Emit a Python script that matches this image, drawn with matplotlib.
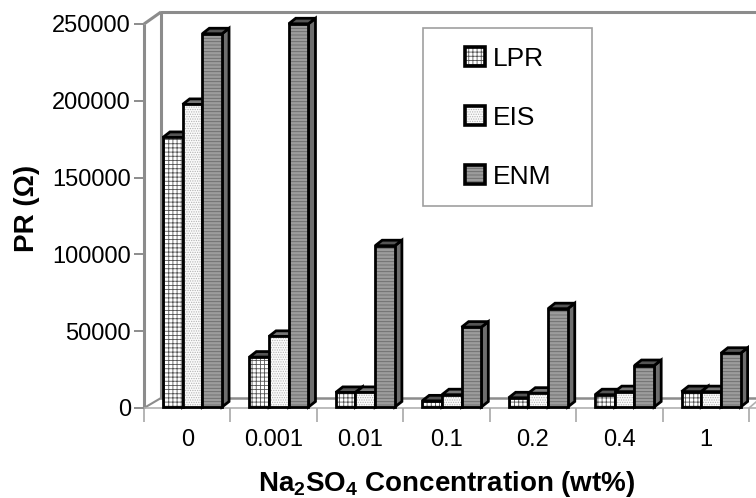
import matplotlib
matplotlib.use('Agg')
import matplotlib.pyplot as plt
from matplotlib.lines import Line2D
from matplotlib.patches import Polygon, Rectangle

plt.rcParams['font.family'] = ['Liberation Sans', 'DejaVu Sans']
plt.rcParams['mathtext.fontset'] = 'custom'
plt.rcParams['mathtext.bf'] = 'Liberation Sans:bold'
plt.rcParams['mathtext.rm'] = 'Liberation Sans'
plt.rcParams['hatch.linewidth'] = 0.6

categories = ['0', '0.001', '0.01', '0.1', '0.2', '0.4', '1']
lpr = [175500, 32500, 9500, 4000, 6000, 8000, 10000]
eis = [197000, 46000, 9500, 8000, 9000, 10000, 10000]
enm = [243000, 249500, 105000, 52000, 64000, 27000, 35000]
yticks = [0, 50000, 100000, 150000, 200000, 250000]

W, H = 756, 498
LEFT, RIGHT, BOTTOM, TOP = 144, 749, 408, 24
GREY = '#8c8c8c'
EDGE = 2.0

fig = plt.figure(figsize=(W / 100, H / 100), dpi=100)
ax = fig.add_axes([LEFT / W, 1 - BOTTOM / H, (RIGHT - LEFT) / W, (BOTTOM - TOP) / H])
ax.set_xlim(0, 7)
ax.set_ylim(0, 250000)
ax.patch.set_alpha(0)

px_x = 7 / (RIGHT - LEFT)
px_y = 250000 / (BOTTOM - TOP)


def fig_line(xs, ys, **kw):
    # pixel coordinates of the picture, y going down
    fig.add_artist(Line2D([x / W for x in xs], [1 - y / H for y in ys],
                          transform=fig.transFigure, zorder=-1, **kw))


# walls of the 3D box
wall = dict(color=GREY, lw=2.2, solid_capstyle='butt')
fig_line([161, 161, W], [398, 12, 12], **wall)
fig_line([161, W], [398, 398], color=GREY, lw=1.8)
fig_line([144, 144], [TOP, BOTTOM], **wall)
fig_line([144, 161], [TOP, 12], **wall)
fig_line([144, 161], [BOTTOM, 398], color=GREY, lw=1.5)
fig_line([144, W], [BOTTOM, BOTTOM], color='#b0b0b0', lw=1.2)
fig_line([RIGHT, W], [BOTTOM, 402], color='#b0b0b0', lw=1.2)

for side in ax.spines.values():
    side.set_visible(False)

bar_w = 19.7 * px_x
depth_x = 7 * px_x
depth_y = 5.5 * px_y
base = 1 * px_y

styles = [
    (lpr, 'LPR', 'white', '++++', '#555555', '#444444', '#555555'),
    (eis, 'EIS', '#fafafa', '.......', '#b4b4b4', '#c4c4c4', '#777777'),
    (enm, 'ENM', '#9c9c9c', '-----', '#6a6a6a', '#6e6e6e', '#555555'),
]

handles = []
for j, (vals, name, face, hatch, hatch_col, side_col, top_col) in enumerate(styles):
    for i, v in enumerate(vals):
        x0 = i + 0.561 + (j - 1.5) * bar_w
        x1 = x0 + bar_w
        y1 = v + base
        side = Polygon([(x1, base), (x1 + depth_x, base + depth_y),
                        (x1 + depth_x, y1 + depth_y), (x1, y1)],
                       fc=side_col, ec='black', lw=EDGE, clip_on=False, zorder=3 + i)
        roof = Polygon([(x0, y1), (x0 + depth_x, y1 + depth_y),
                        (x1 + depth_x, y1 + depth_y), (x1, y1)],
                       fc=top_col, ec='black', lw=EDGE, clip_on=False, zorder=3 + i)
        ax.add_patch(side)
        ax.add_patch(roof)
    bars = ax.bar([i + 0.561 + (j - 1) * bar_w for i in range(len(vals))], vals,
                  width=bar_w, bottom=base, color=face, edgecolor='black', lw=EDGE,
                  hatch=hatch, clip_on=False)
    for i, b in enumerate(bars):
        b.set_zorder(3.5 + i)
        b._hatch_color = matplotlib.colors.to_rgba(hatch_col)
    handles.append(bars[0])

ax.set_yticks(yticks)
ax.set_xticks(range(8))
ax.set_xticklabels([])
ax.set_xticks([i + 0.5 for i in range(len(categories))], minor=True)
ax.set_xticklabels(categories, minor=True)
ax.tick_params(axis='y', length=7, width=1.4, color=GREY, labelsize=17, pad=2.5)
ax.tick_params(axis='x', which='major', length=10, width=1.2, color='#a8a8a8')
ax.tick_params(axis='x', which='minor', length=0, labelsize=17, pad=15)

fig.text(27 / W, 1 - 208 / H, 'PR (Ω)', rotation=90, fontsize=20, fontweight='bold',
         ha='center', va='center')
fig.text(447 / W, 1 - 484 / H, r'$\mathbf{Na_2SO_4}$ Concentration (wt%)', fontsize=20,
         fontweight='bold', ha='center', va='center')

# legend box
fig.add_artist(Rectangle((423 / W, 1 - 206 / H), 169 / W, 178 / H, fc='white',
                         ec='#a0a0a0', lw=1.2, transform=fig.transFigure, zorder=20))
leg = fig.legend(handles, ['LPR', 'EIS', 'ENM'], loc='upper left',
                 bbox_to_anchor=(457 / W, 1 - 39 / H), frameon=False, fontsize=19,
                 labelspacing=1.32, handlelength=0.76, handleheight=0.72,
                 handletextpad=0.3, borderpad=0.3, borderaxespad=0)
leg.set_zorder(21)
for patch in leg.get_patches():
    patch.set_linewidth(2.6)

fig.savefig('out.png', dpi=100)
